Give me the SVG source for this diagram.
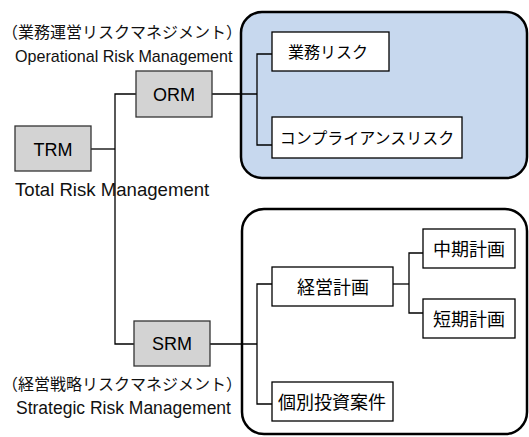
<svg xmlns="http://www.w3.org/2000/svg" width="529" height="437" viewBox="0 0 529 437">
<style>
.grp{stroke:#000;stroke-width:2.5}
.box{fill:#fff;stroke:#000;stroke-width:1.3}
.gbox{fill:#d3d3d3;stroke:#333;stroke-width:1.3}
.con{fill:none;stroke:#000;stroke-width:1.3}
.lat{font-family:"Liberation Sans",Arial,sans-serif;fill:#111}
.jp{font-family:"Noto Sans CJK JP","Noto Sans",sans-serif;fill:#111}
.bt{font-family:"Noto Sans CJK JP","Noto Sans",sans-serif;fill:#000;text-anchor:middle;dominant-baseline:central}
.ct{font-family:"Liberation Sans",Arial,sans-serif;fill:#000;text-anchor:middle;font-size:18px}
</style>
<rect id="orm-group" class="grp" x="241" y="12" width="286" height="166" rx="21" ry="21" fill="#c7d8ee"/>
<rect id="srm-group" class="grp" x="242" y="209" width="285" height="225" rx="22" ry="22" fill="#fff"/>
<g id="connectors">
<polyline class="con" points="91,149 115,149"/>
<polyline class="con" points="136,94 115,94 115,344 134,344"/>
<polyline class="con" points="212,94 257,94"/>
<polyline class="con" points="272,54 257,54 257,145 272,145"/>
<polyline class="con" points="210,344 257,344"/>
<polyline class="con" points="272,284 257,284 257,404 272,404"/>
<polyline class="con" points="393,284 409,284"/>
<polyline class="con" points="423,253 409,253 409,313 423,313"/>
</g>
<g id="trm">
<rect class="gbox" x="15" y="126" width="76" height="45"/>
<text class="ct" x="53" y="156">TRM</text>
<text class="lat" x="15" y="196" font-size="18.6">Total Risk Management</text>
</g>
<g id="orm">
<rect class="gbox" x="136" y="71" width="76" height="46"/>
<text class="ct" x="174" y="101">ORM</text>
<text class="jp" x="2" y="38" font-size="16">（業務運営リスクマネジメント）</text>
<text class="lat" x="15" y="62" font-size="16.1">Operational Risk Management</text>
</g>
<g id="srm">
<rect class="gbox" x="134" y="321" width="76" height="45"/>
<text class="ct" x="172" y="350">SRM</text>
<text class="jp" x="2" y="390" font-size="16">（経営戦略リスクマネジメント）</text>
<text class="lat" x="16" y="414" font-size="17.5">Strategic Risk Management</text>
</g>
<g id="gyomu-risk">
<rect class="box" x="272" y="32" width="117" height="39"/>
<text class="bt" x="328" y="51" font-size="16">業務リスク</text>
</g>
<g id="compliance-risk">
<rect class="box" x="272" y="117" width="190" height="41"/>
<text class="bt" x="367" y="137" font-size="16">コンプライアンスリスク</text>
</g>
<g id="keiei-keikaku">
<rect class="box" x="272" y="267" width="121" height="39"/>
<text class="bt" x="333" y="286" font-size="18">経営計画</text>
</g>
<g id="chuki-keikaku">
<rect class="box" x="423" y="229" width="92" height="39"/>
<text class="bt" x="469" y="248" font-size="18">中期計画</text>
</g>
<g id="tanki-keikaku">
<rect class="box" x="423" y="299" width="92" height="39"/>
<text class="bt" x="469" y="318" font-size="18">短期計画</text>
</g>
<g id="kobetsu-toushi">
<rect class="box" x="272" y="382" width="121" height="39"/>
<text class="bt" x="332" y="401" font-size="18">個別投資案件</text>
</g>
</svg>
